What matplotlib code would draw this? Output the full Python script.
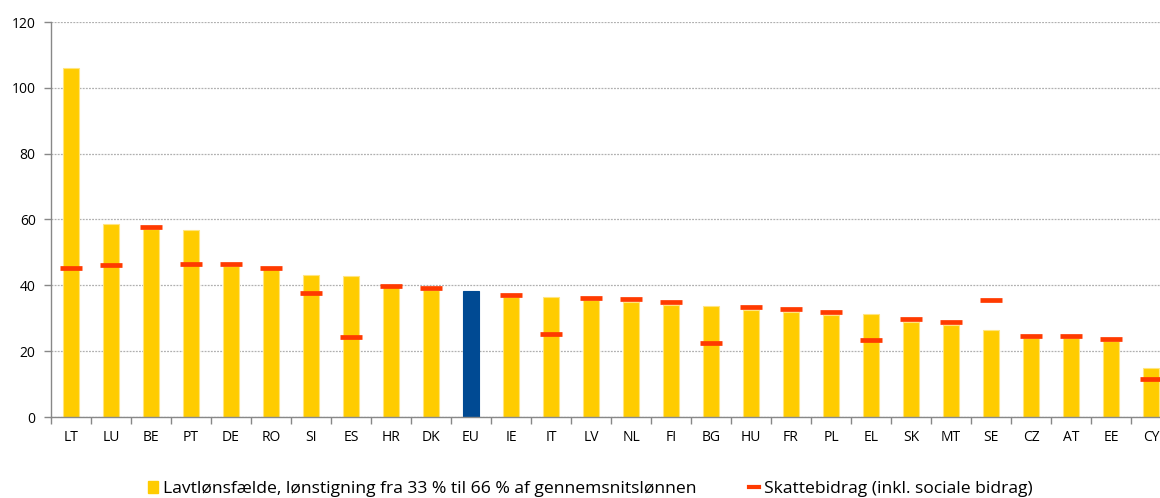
import numpy as np
import matplotlib.pyplot as plt
from matplotlib.patches import Patch
from matplotlib.lines import Line2D

countries = ['LT', 'LU', 'BE', 'PT', 'DE', 'RO', 'SI', 'ES', 'HR', 'DK', 'EU', 'IE', 'IT', 'LV',
             'NL', 'FI', 'BG', 'HU', 'FR', 'PL', 'EL', 'SK', 'MT', 'SE', 'CZ', 'AT', 'EE', 'CY']
lowwage_trap = [106, 58.6, 57, 56.8, 46, 45, 43.0, 42.8, 39.5, 38.5, 38.3, 36.5, 36.6, 35.5,
                35, 34, 33.7, 32.5, 32, 31, 31.2, 29, 28, 26.3, 24, 24, 23, 14.9]
tax_wedge = [45.2, 46.1, 57.6, 46.4, 46.4, 45.2, 37.6, 24.2, 39.7, 39.1, np.nan, 37.0, 25.1, 36.1,
             35.8, 34.8, 22.4, 33.3, 32.7, 31.8, 23.3, 29.7, 28.8, 35.4, 24.5, 24.5, 23.6, 11.5]

label_bar = 'Lavtlønsfælde, lønstigning fra 33 % til 66 % af gennemsnitslønnen'
label_tax = 'Skattebidrag (inkl. sociale bidrag)'

yellow = '#FFCC00'
blue = '#004A93'
red = '#FF3A00'

fig = plt.figure(figsize=(11.6, 4.98), dpi=100)
ax = fig.add_axes([51/1160, 81/498, 1120/1160, 395/498])

x = np.arange(len(countries))
colors = [blue if c == 'EU' else yellow for c in countries]
edges = [blue if c == 'EU' else '#FFE580' for c in countries]
ax.bar(x, lowwage_trap, width=0.4, color=colors, edgecolor=edges, linewidth=0.8, zorder=2)
ax.plot(x, tax_wedge, linestyle='none', marker='_', markersize=16, markeredgewidth=3.4,
        color=red, zorder=3)

ax.set_xlim(-0.5, len(countries) - 0.5)
ax.set_ylim(0, 120)
ax.set_yticks(range(0, 121, 20))
ax.set_xticks(x)
ax.set_xticklabels(countries)
ax.set_xticks(np.arange(-0.5, len(countries), 1), minor=True)
ax.tick_params(axis='x', which='major', length=0, pad=9)
ax.tick_params(axis='x', which='minor', length=5, color='#888888', width=1)
ax.tick_params(axis='y', length=5, color='#888888', width=1, pad=6)
for lab in ax.get_xticklabels() + ax.get_yticklabels():
    lab.set_fontfamily(['Open Sans', 'DejaVu Sans'])
    lab.set_fontsize(10)

ax.grid(axis='y', linestyle=(0, (1.5, 1)), color='#B0B0B0', linewidth=0.9, zorder=0)
for s in ['top', 'right']:
    ax.spines[s].set_visible(False)
for s in ['left', 'bottom']:
    ax.spines[s].set_color('#888888')
    ax.spines[s].set_linewidth(1)

handles = [Patch(facecolor=yellow, edgecolor=yellow),
           Line2D([0], [0], color=red, linewidth=3)]
fig.legend(handles, [label_bar, label_tax], loc='center', bbox_to_anchor=(0.509, 0.018),
           ncol=2, frameon=False, columnspacing=3.0, handlelength=0.55, handletextpad=0.3,
           prop={'family': ['Open Sans', 'DejaVu Sans'], 'size': 12.6})

fig.savefig('out.png', dpi=100)
